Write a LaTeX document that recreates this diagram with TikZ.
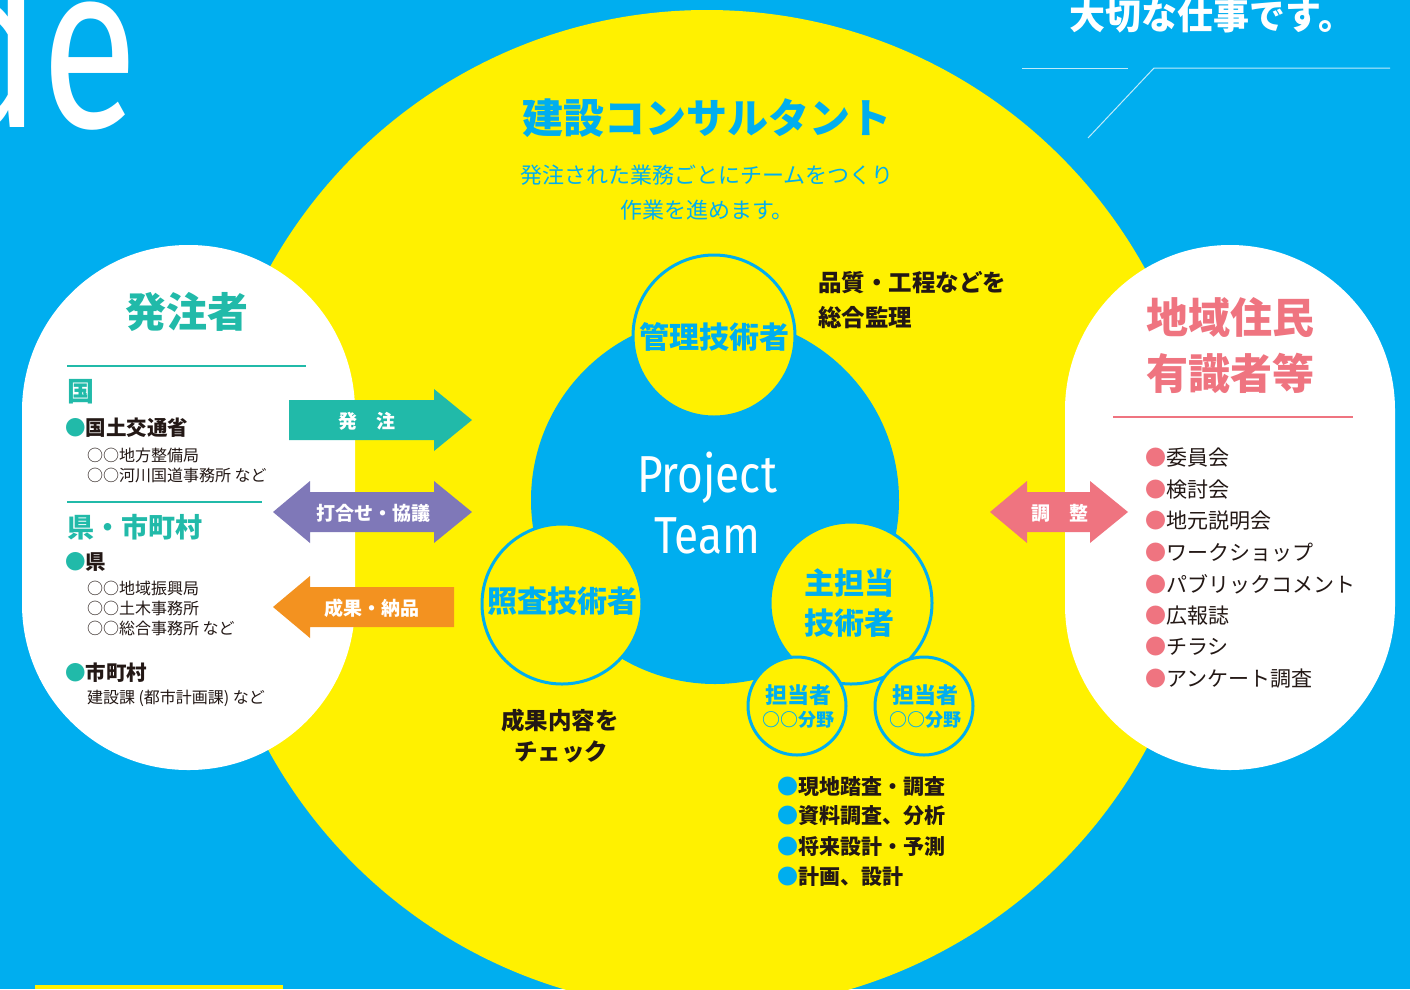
\documentclass[tikz,border=0pt]{standalone}
\usepackage{fontspec}
\setmainfont{Noto Sans CJK JP}
\newfontfamily\pjfont{Fira Sans}[FakeStretch=0.85]
\newfontfamily\defont{Fira Sans}[FakeStretch=0.76]
\newcommand\myfs[1]{\fontsize{#1}{#1}\selectfont}
\definecolor{cblue}{HTML}{00AEEF}
\definecolor{cyellow}{HTML}{FFF100}
\definecolor{cteal}{HTML}{21BAA9}
\definecolor{cpurple}{HTML}{7F78B8}
\definecolor{corange}{HTML}{F39220}
\definecolor{cpink}{HTML}{EF7480}
\definecolor{cdark}{HTML}{231815}
\tikzset{
  every node/.style={inner sep=0pt, outer sep=0pt},
  pcircle/.style={circle, draw=cblue, line width=3pt, fill=cyellow},
  ltitle/.style={font=\myfs{27}\bfseries, text=cteal, anchor=west},
  litem/.style={font=\myfs{20.5}\bfseries, text=cdark, anchor=west},
  lsub/.style={font=\myfs{16}, text=cdark, anchor=west},
  ritem/.style={font=\myfs{21}, text=cdark, anchor=west},
  bitem/.style={font=\myfs{21}\bfseries, text=cdark, anchor=west},
  atext/.style={font=\myfs{19}\bfseries, text=white},
  ctext/.style={font=\myfs{30}\bfseries, text=cblue},
  dtext/.style={font=\myfs{23.5}\bfseries, text=cdark},
}
\begin{document}
\begin{tikzpicture}[x=1pt,y=-1pt]
\useasboundingbox (0,0) rectangle (1410,989);
\clip (0,0) rectangle (1410,989);
% background
\fill[cblue] (0,0) rectangle (1410,989);
\fill[cyellow] (707,510) circle[radius=500pt];
\fill[cyellow] (35,985) rectangle (283,989);
% top decoration
\node[font=\defont\myfs{233}, text=white, anchor=base east] (de) at (138,127) {de};
\node[font=\myfs{36}\bfseries, text=white] (taisetsu) at (1212,16) {大切な仕事です。};
\coordinate (l1a) at (1022,68);
\coordinate (l1b) at (1128,68);
\coordinate (l2a) at (1088,138);
\coordinate (l2b) at (1154,68);
\coordinate (l2c) at (1390,68);
\draw[white, opacity=.75, line width=1pt] (l1a) -- (l1b);
\draw[white, opacity=.75, line width=1pt] (l2a) -- (l2b) -- (l2c);
% white panels
\fill[white, rounded corners=166pt] (22,245) rectangle (355,770);
\fill[white, rounded corners=165pt] (1065,245) rectangle (1395,770);
% title
\node[font=\myfs{41}\bfseries, text=cblue] (title) at (707,118) {建設コンサルタント};
\node[font=\myfs{22}, text=cblue] (sub1) at (707,175) {発注された業務ごとにチームをつくり};
\node[font=\myfs{22}, text=cblue] (sub2) at (707,210) {作業を進めます。};
% project team
\fill[cblue] (715,500) circle[radius=184pt];
\node[pcircle, minimum size=162pt] (kanri) at (714,336) {};
\node[pcircle, minimum size=160pt] (shosa) at (562,604) {};
\node[pcircle, minimum size=162pt] (shutan) at (851,603) {};
\node[pcircle, minimum size=98pt] (tanA) at (797,706) {};
\node[pcircle, minimum size=98pt] (tanB) at (924,706) {};
\node[ctext] (kanriT) at (714,337) {管理技術者};
\node[ctext] (shosaT) at (562,601) {照査技術者};
\node[ctext] (shutanT1) at (849,583) {主担当};
\node[ctext] (shutanT2) at (849,623) {技術者};
\node[font=\myfs{22}\bfseries, text=cblue] (tanA1) at (798,695) {担当者};
\node[font=\myfs{18}\bfseries, text=cblue] (tanA2) at (798,720) {○○分野};
\node[font=\myfs{22}\bfseries, text=cblue] (tanB1) at (925,695) {担当者};
\node[font=\myfs{18}\bfseries, text=cblue] (tanB2) at (925,720) {○○分野};
\node[font=\pjfont\myfs{52}, text=white, anchor=base] (proj) at (707,492) {Project};
\node[font=\pjfont\myfs{52}, text=white, anchor=base] (team) at (707,553) {Team};
% notes
\node[dtext, anchor=west] (hin1) at (818,283) {品質・工程などを};
\node[dtext, anchor=west] (hin2) at (818,318) {総合監理};
\node[dtext] (sei1) at (560,721) {成果内容を};
\node[dtext] (sei2) at (561,752) {チェック};
\node[bitem] (b1) at (777,787) {{\color{cblue}●}現地踏査・調査};
\node[bitem] (b2) at (777,816) {{\color{cblue}●}資料調査、分析};
\node[bitem] (b3) at (777,847) {{\color{cblue}●}将来設計・予測};
\node[bitem] (b4) at (777,877) {{\color{cblue}●}計画、設計};
% left panel
\node[font=\myfs{41}\bfseries, text=cteal] (hatchusha) at (187,312) {発注者};
\draw[cteal, line width=2pt] (67,366) -- (306,366);
\node[ltitle] (kuni) at (67,392) {国};
\node[litem] (mlit) at (65,428) {{\color{cteal}●}国土交通省};
\node[lsub] (m1) at (87,455) {○○地方整備局};
\node[lsub] (m2) at (87,475) {○○河川国道事務所 など};
\draw[cteal, line width=2pt] (67,502) -- (262,502);
\node[ltitle] (ken) at (67,527) {県・市町村};
\node[litem] (ken1) at (65,562) {{\color{cteal}●}県};
\node[lsub] (k1) at (87,588) {○○地域振興局};
\node[lsub] (k2) at (87,608) {○○土木事務所};
\node[lsub] (k3) at (87,628) {○○総合事務所 など};
\node[litem] (shi) at (65,673) {{\color{cteal}●}市町村};
\node[lsub] (s1) at (87,698) {建設課 (都市計画課) など};
% right panel
\node[font=\myfs{42}\bfseries, text=cpink] (chiiki1) at (1230,318) {地域住民};
\node[font=\myfs{42}\bfseries, text=cpink] (chiiki2) at (1230,373) {有識者等};
\draw[cpink, line width=2pt] (1113,417) -- (1353,417);
\node[ritem] (r1) at (1145,458) {{\color{cpink}●}委員会};
\node[ritem] (r2) at (1145,489.5) {{\color{cpink}●}検討会};
\node[ritem] (r3) at (1145,521) {{\color{cpink}●}地元説明会};
\node[ritem] (r4) at (1145,552.5) {{\color{cpink}●}ワークショップ};
\node[ritem] (r5) at (1145,584) {{\color{cpink}●}パブリックコメント};
\node[ritem] (r6) at (1145,615.5) {{\color{cpink}●}広報誌};
\node[ritem] (r7) at (1145,647) {{\color{cpink}●}チラシ};
\node[ritem] (r8) at (1145,678.5) {{\color{cpink}●}アンケート調査};
% arrows
\fill[cteal] (289,400) -- (434,400) -- (434,389) -- (472,420) -- (434,451) -- (434,440) -- (289,440) -- cycle;
\node[atext] (a1) at (367,421) {発　注};
\fill[cpurple] (273,512) -- (310,481) -- (310,492) -- (434,492) -- (434,481) -- (472,512) -- (434,543) -- (434,532) -- (310,532) -- (310,543) -- cycle;
\node[atext] (a2) at (373,513) {打合せ・協議};
\fill[corange] (273,607) -- (310,576) -- (310,587) -- (454,587) -- (454,627) -- (310,627) -- (310,638) -- cycle;
\node[atext] (a3) at (372,608) {成果・納品};
\fill[cpink] (990,512) -- (1027,481) -- (1027,492) -- (1090,492) -- (1090,481) -- (1128,512) -- (1090,543) -- (1090,532) -- (1027,532) -- (1027,543) -- cycle;
\node[atext] (a4) at (1060,513) {調　整};
\end{tikzpicture}
\end{document}
